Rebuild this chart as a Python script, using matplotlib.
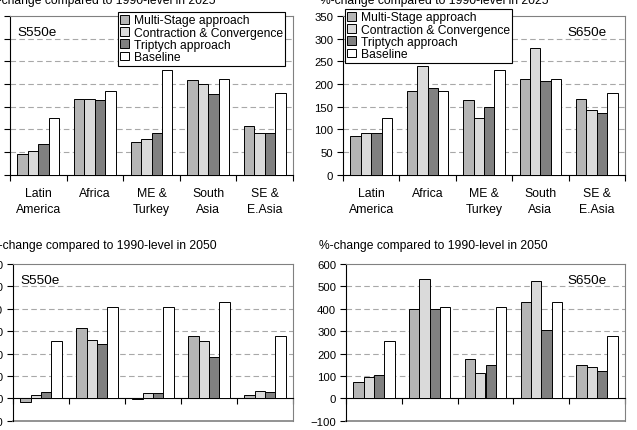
import matplotlib.pyplot as plt
import numpy as np

plt.rcParams['font.family'] = ['Liberation Sans', 'DejaVu Sans']
plt.rcParams['font.size'] = 8

regions = ["Latin\nAmerica", "Africa", "ME &\nTurkey", "South\nAsia", "SE &\nE.Asia"]
series = ["Multi-Stage approach", "Contraction & Convergence", "Triptych approach", "Baseline"]
colors = ['#b5b5b5', '#dadada', '#808080', '#ffffff']

# %-change vs 1990 in 2025
s550_2025_ms = [45, 168, 72, 208, 108]
s550_2025_cc = [52, 168, 78, 200, 92]
s550_2025_tr = [67, 165, 92, 177, 92]
s550_2025_bl = [125, 185, 230, 210, 180]

s650_2025_ms = [85, 184, 165, 210, 167]
s650_2025_cc = [92, 240, 125, 279, 142]
s650_2025_tr = [92, 192, 150, 207, 135]
s650_2025_bl = [125, 185, 230, 210, 180]

# %-change vs 1990 in 2050
s550_2050_ms = [-18, 315, -5, 280, 15]
s550_2050_cc = [13, 260, 22, 256, 34]
s550_2050_tr = [28, 241, 22, 185, 30]
s550_2050_bl = [255, 406, 410, 431, 280]

s650_2050_ms = [73, 397, 176, 431, 150]
s650_2050_cc = [95, 531, 115, 522, 140]
s650_2050_tr = [104, 401, 149, 307, 121]
s650_2050_bl = [255, 406, 410, 431, 280]

W, H = 637, 431
fig = plt.figure(figsize=(W / 100, H / 100), dpi=100)


def px_axes(x0, x1, ytop, ybot):
    return fig.add_axes([x0 / W, 1 - ybot / H, (x1 - x0) / W, (ybot - ytop) / H])


def draw_panel(ax, data, ymin, ymax, step, name, right_name, xlabels):
    x = np.arange(len(regions))
    w = 0.185
    for i, vals in enumerate(data):
        ax.bar(x + (i - 1.5) * w, vals, w, color=colors[i], edgecolor='black',
               linewidth=0.7, label=series[i], zorder=3)
    ax.set_xlim(-0.5, 4.5)
    ax.set_ylim(ymin, ymax)
    ax.set_yticks(np.arange(ymin, ymax + 1, step))
    for yv in np.arange(ymin + step, ymax, step):
        if yv != 0:
            ax.axhline(yv, color='#a8a8a8', ls=(0, (5, 3)), lw=0.8, zorder=1)
    ax.set_xticks(np.arange(-0.5, 5, 1))
    ax.set_xticklabels([])
    ax.set_xticks(x, minor=True)
    if xlabels:
        ax.set_xticklabels(regions, minor=True, linespacing=1.4, fontsize=8.8)
    else:
        ax.set_xticklabels([], minor=True)
    ax.tick_params(axis='x', which='minor', length=0, pad=9)
    ax.tick_params(axis='x', which='major', length=4, direction='out', width=0.8)
    ax.tick_params(axis='y', length=4, direction='out', pad=3, width=0.8, labelsize=8.2)
    for s in ['top', 'right']:
        ax.spines[s].set_color('#808080')
        ax.spines[s].set_linewidth(0.8)
    ax.spines['left'].set_linewidth(0.8)
    ax.spines['bottom'].set_linewidth(0.8)
    if ymin < 0:
        ax.spines['bottom'].set_position(('data', 0))
        ax.axhline(ymin, color='#808080', lw=1.2, clip_on=False)
    if right_name:
        ax.text(0.935, 0.9, name, transform=ax.transAxes, ha='right', va='center', fontsize=9.7)
    else:
        ax.text(0.025, 0.9, name, transform=ax.transAxes, ha='left', va='center', fontsize=9.7)


def add_legend(ax, fx, fy):
    leg = ax.legend(loc='upper left', bbox_to_anchor=(fx / W, 1 - fy / H),
                    bbox_transform=fig.transFigure, fancybox=False, framealpha=1,
                    edgecolor='black', handlelength=0.75, handleheight=0.75,
                    handletextpad=0.35, labelspacing=0.02, borderpad=0.2,
                    borderaxespad=0, fontsize=8.7)
    leg.get_frame().set_linewidth(0.8)
    leg.set_zorder(10)


ax1 = px_axes(10, 293, 17, 175.7)
draw_panel(ax1, [s550_2025_ms, s550_2025_cc, s550_2025_tr, s550_2025_bl], 0, 350, 50, "S550e", False, True)
add_legend(ax1, 118, 13)

ax2 = px_axes(343, 625, 17, 175.7)
draw_panel(ax2, [s650_2025_ms, s650_2025_cc, s650_2025_tr, s650_2025_bl], 0, 350, 50, "S650e", True, True)
add_legend(ax2, 345, 10)

ax3 = px_axes(13, 293, 265, 421.7)
draw_panel(ax3, [s550_2050_ms, s550_2050_cc, s550_2050_tr, s550_2050_bl], -100, 600, 100, "S550e", False, False)

ax4 = px_axes(346, 625, 265, 421.7)
draw_panel(ax4, [s650_2050_ms, s650_2050_cc, s650_2050_tr, s650_2050_bl], -100, 600, 100, "S650e", True, False)

title_fs = 8.7
fig.text(-13 / W, 1 - 4 / H, "%-change compared to 1990-level in 2025", ha='left', va='baseline', fontsize=title_fs)
fig.text(320 / W, 1 - 4 / H, "%-change compared to 1990-level in 2025", ha='left', va='baseline', fontsize=title_fs)
fig.text(-12 / W, 1 - 249 / H, "%-change compared to 1990-level in 2050", ha='left', va='baseline', fontsize=title_fs)
fig.text(319 / W, 1 - 249 / H, "%-change compared to 1990-level in 2050", ha='left', va='baseline', fontsize=title_fs)

fig.savefig("out.png", dpi=100)
